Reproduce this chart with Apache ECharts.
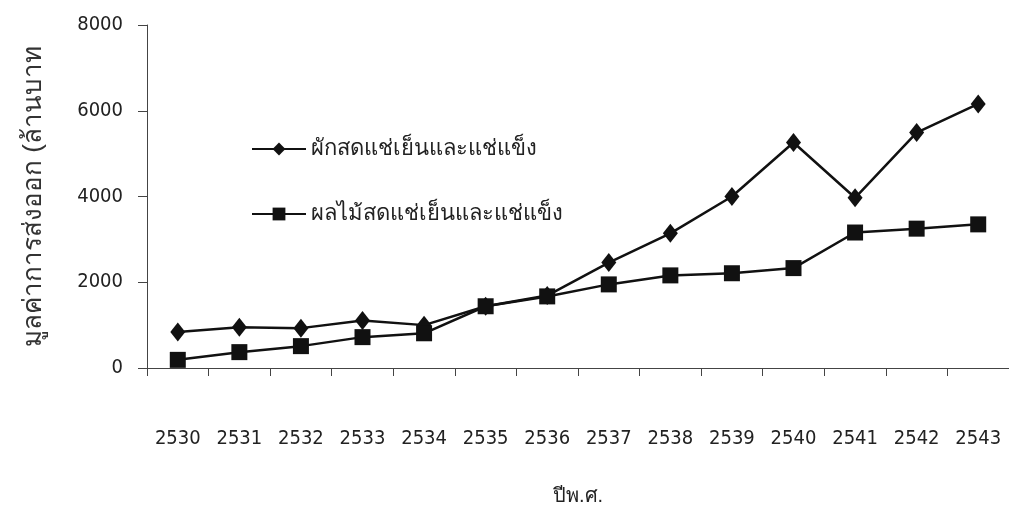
<!DOCTYPE html>
<html>
<head>
<meta charset="utf-8">
<script src="https://cdn.jsdelivr.net/npm/echarts@6/dist/echarts.min.js"></script>
<style>html,body{margin:0;padding:0;background:#fff}#c{width:1009px;height:519px}</style>
</head>
<body>
<div id="c"></div>
<script>
const years = ['2530','2531','2532','2533','2534','2535','2536','2537','2538','2539','2540','2541','2542','2543'];
const vegetables = [840, 950, 930, 1110, 1000, 1440, 1690, 2460, 3140, 4000, 5260, 3970, 5490, 6160];
const fruits = [190, 370, 510, 720, 810, 1440, 1670, 1950, 2160, 2210, 2330, 3160, 3250, 3350];
const seriesNames = ['ผักสดแช่เย็นและแช่แข็ง', 'ผลไม้สดแช่เย็นและแช่แข็ง'];
const yTicks = { min: 0, max: 8000, interval: 2000 };
const xTitle = 'ปีพ.ศ.';
const yTitle = 'มูลค่าการส่งออก (ล้านบาท';

const numFont = '"DejaVu Sans Condensed", "Liberation Sans Narrow", sans-serif';
const chart = echarts.init(document.getElementById('c'));
chart.setOption({
  animation: false,
  backgroundColor: '#fff',
  grid: { left: 147, right: 0, top: 25, bottom: 151 },
  legend: {
    orient: 'vertical', left: 246, top: 133, itemGap: 43,
    itemWidth: 54, itemHeight: 16,
    textStyle: { fontSize: 22, color: '#222', fontFamily: 'sans-serif' },
    data: seriesNames
  },
  xAxis: {
    type: 'category', data: years, boundaryGap: true,
    name: xTitle, nameLocation: 'middle', nameGap: 118,
    nameTextStyle: { fontSize: 20, color: '#222' },
    axisLine: { lineStyle: { color: '#444', width: 1 } },
    axisTick: { show: true, interval: 0, length: 8, lineStyle: { color: '#444' } },
    axisLabel: { interval: 0, margin: 61, fontSize: 20, color: '#222', fontFamily: numFont }
  },
  yAxis: {
    type: 'value', min: yTicks.min, max: yTicks.max, interval: yTicks.interval,
    name: yTitle, nameLocation: 'middle', nameRotate: 90, nameGap: 100,
    nameTextStyle: { fontSize: 26, color: '#333' },
    splitLine: { show: false },
    axisLine: { show: true, lineStyle: { color: '#444', width: 1 } },
    axisTick: { show: true, inside: false, length: 9, lineStyle: { color: '#444' } },
    axisLabel: { margin: 24, fontSize: 20, color: '#222', fontFamily: numFont, formatter: v => String(v) }
  },
  series: [
    {
      name: seriesNames[0], type: 'line', data: vegetables,
      symbol: 'diamond', symbolSize: [15, 19],
      lineStyle: { color: '#111', width: 2.5 },
      itemStyle: { color: '#111' }
    },
    {
      name: seriesNames[1], type: 'line', data: fruits,
      symbol: 'rect', symbolSize: 16,
      lineStyle: { color: '#111', width: 2.5 },
      itemStyle: { color: '#111' }
    }
  ]
});
</script>
</body>
</html>
